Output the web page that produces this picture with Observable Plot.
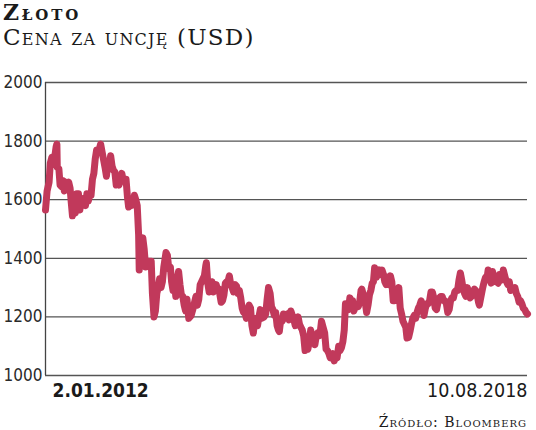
<!DOCTYPE html>
<html>
<head>
<meta charset="utf-8">
<script src="https://cdn.jsdelivr.net/npm/d3@7"></script>
<script src="https://cdn.jsdelivr.net/npm/@observablehq/plot@0.6"></script>
<style>
  body { margin: 0; background: #fff; }
  #wrap { position: relative; width: 536px; height: 430px; overflow: hidden; }
  .title { position: absolute; left: 3px; top: 1px; font: bold 22px/22px "DejaVu Serif", serif; font-variant: small-caps; letter-spacing: 2.8px; color: #1a1a1a; white-space: nowrap; }
  .sub { position: absolute; left: 3px; top: 26px; font: 23px/23px "DejaVu Serif", serif; font-variant: small-caps; letter-spacing: 1.2px; color: #1a1a1a; white-space: nowrap; }
  .src { position: absolute; right: 9px; top: 415px; font: 14px/14px "DejaVu Serif", serif; font-variant: small-caps; letter-spacing: 1px; color: #1a1a1a; white-space: nowrap; }
  #chart { position: absolute; left: 0; top: 60px; }
</style>
</head>
<body>
<div id="wrap">
  <div class="title">Złoto</div>
  <div class="sub">Cena za uncję (USD)</div>
  <div id="chart"></div>
  <div class="src">Źródło: Bloomberg</div>
</div>
<script>
const yTicks = [1000, 1200, 1400, 1600, 1800, 2000];
const endLabels = ["2.01.2012", "10.08.2018"];

const dates = [
"2012-01-02","2012-01-10","2012-01-20","2012-01-26","2012-02-03","2012-02-10","2012-02-16","2012-02-24","2012-02-28","2012-03-01","2012-03-09","2012-03-15","2012-03-22","2012-03-30","2012-04-05","2012-04-13","2012-04-20","2012-04-27","2012-05-04","2012-05-10","2012-05-16","2012-05-22","2012-05-30","2012-06-06","2012-06-15","2012-06-22","2012-06-29","2012-07-06","2012-07-13","2012-07-20","2012-07-27","2012-08-03","2012-08-10","2012-08-17","2012-08-24","2012-08-31","2012-09-07","2012-09-14","2012-09-21","2012-09-28","2012-10-04","2012-10-12","2012-10-19","2012-10-26","2012-11-02","2012-11-09","2012-11-16","2012-11-23","2012-11-30","2012-12-07","2012-12-14","2012-12-21","2012-12-28",
"2013-01-04","2013-01-11","2013-01-18","2013-01-25","2013-02-01","2013-02-08","2013-02-15","2013-02-21","2013-02-28","2013-03-08","2013-03-15","2013-03-22","2013-03-29","2013-04-05","2013-04-12","2013-04-15","2013-04-19","2013-04-26","2013-05-03","2013-05-10","2013-05-17","2013-05-24","2013-05-31","2013-06-07","2013-06-14","2013-06-20","2013-06-28","2013-07-05","2013-07-12","2013-07-19","2013-07-26","2013-08-02","2013-08-09","2013-08-16","2013-08-27","2013-09-03","2013-09-10","2013-09-18","2013-09-24","2013-10-01","2013-10-08","2013-10-15","2013-10-22","2013-10-29","2013-11-05","2013-11-12","2013-11-19","2013-11-26","2013-12-03","2013-12-10","2013-12-19","2013-12-31",
"2014-01-08","2014-01-15","2014-01-24","2014-01-31","2014-02-07","2014-02-14","2014-02-21","2014-02-28","2014-03-07","2014-03-14","2014-03-17","2014-03-24","2014-03-31","2014-04-07","2014-04-14","2014-04-21","2014-04-28","2014-05-05","2014-05-12","2014-05-19","2014-05-30","2014-06-06","2014-06-13","2014-06-20","2014-06-27","2014-07-03","2014-07-10","2014-07-17","2014-07-24","2014-07-31","2014-08-08","2014-08-15","2014-08-22","2014-08-29","2014-09-05","2014-09-12","2014-09-19","2014-09-26","2014-10-03","2014-10-10","2014-10-17","2014-10-24","2014-10-31","2014-11-07","2014-11-14","2014-11-21","2014-11-28","2014-12-05","2014-12-12","2014-12-19","2014-12-31",
"2015-01-08","2015-01-15","2015-01-22","2015-01-30","2015-02-06","2015-02-13","2015-02-20","2015-02-27","2015-03-06","2015-03-13","2015-03-17","2015-03-24","2015-03-31","2015-04-07","2015-04-14","2015-04-21","2015-04-28","2015-05-05","2015-05-14","2015-05-21","2015-05-29","2015-06-05","2015-06-12","2015-06-19","2015-06-26","2015-07-03","2015-07-10","2015-07-17","2015-07-24","2015-07-31","2015-08-07","2015-08-14","2015-08-21","2015-08-28","2015-09-04","2015-09-11","2015-09-18","2015-09-25","2015-10-02","2015-10-09","2015-10-14","2015-10-22","2015-10-30","2015-11-06","2015-11-13","2015-11-20","2015-11-27","2015-12-04","2015-12-10","2015-12-17","2015-12-24","2015-12-31",
"2016-01-08","2016-01-15","2016-01-22","2016-01-29","2016-02-05","2016-02-11","2016-02-19","2016-02-26","2016-03-04","2016-03-11","2016-03-18","2016-03-24","2016-03-31","2016-04-08","2016-04-15","2016-04-22","2016-04-29","2016-05-03","2016-05-13","2016-05-20","2016-05-27","2016-06-03","2016-06-10","2016-06-17","2016-06-24","2016-06-30","2016-07-06","2016-07-15","2016-07-22","2016-07-29","2016-08-05","2016-08-12","2016-08-19","2016-08-26","2016-09-02","2016-09-09","2016-09-16","2016-09-23","2016-09-30","2016-10-07","2016-10-14","2016-10-21","2016-10-28","2016-11-04","2016-11-11","2016-11-18","2016-11-25","2016-12-02","2016-12-09","2016-12-15","2016-12-23","2016-12-30",
"2017-01-06","2017-01-13","2017-01-20","2017-01-27","2017-02-03","2017-02-10","2017-02-17","2017-02-24","2017-03-03","2017-03-10","2017-03-17","2017-03-24","2017-03-31","2017-04-07","2017-04-14","2017-04-21","2017-04-28","2017-05-05","2017-05-12","2017-05-19","2017-05-26","2017-06-02","2017-06-09","2017-06-16","2017-06-23","2017-06-30","2017-07-07","2017-07-14","2017-07-21","2017-07-28","2017-08-04","2017-08-11","2017-08-18","2017-08-25","2017-09-01","2017-09-08","2017-09-15","2017-09-22","2017-09-29","2017-10-06","2017-10-13","2017-10-20","2017-10-27","2017-11-03","2017-11-10","2017-11-17","2017-11-24","2017-12-01","2017-12-08","2017-12-12","2017-12-19","2017-12-29",
"2018-01-05","2018-01-12","2018-01-19","2018-01-25","2018-02-02","2018-02-09","2018-02-16","2018-02-23","2018-03-02","2018-03-09","2018-03-16","2018-03-23","2018-03-30","2018-04-06","2018-04-11","2018-04-20","2018-04-27","2018-05-04","2018-05-11","2018-05-18","2018-05-25","2018-06-01","2018-06-08","2018-06-15","2018-06-22","2018-06-29","2018-07-06","2018-07-13","2018-07-20","2018-07-27","2018-08-03","2018-08-10"
];

const prices = [
1565,1630,1660,1725,1745,1720,1740,1780,1790,1710,1705,1650,1645,1665,1630,1660,1640,1660,1640,1590,1545,1570,1555,1620,1620,1565,1605,1580,1590,1580,1620,1595,1615,1615,1670,1690,1740,1770,1770,1775,1790,1760,1735,1710,1680,1730,1715,1750,1715,1700,1695,1650,1660,
1650,1665,1690,1665,1670,1670,1610,1575,1580,1580,1590,1615,1600,1580,1480,1360,1400,1460,1470,1430,1370,1390,1390,1390,1390,1280,1200,1220,1280,1300,1330,1300,1320,1370,1420,1410,1365,1370,1320,1290,1320,1270,1330,1355,1310,1275,1270,1240,1220,1260,1195,1205,
1225,1245,1270,1240,1260,1310,1320,1330,1340,1375,1385,1315,1285,1300,1320,1285,1300,1310,1295,1295,1250,1255,1275,1315,1320,1320,1340,1310,1300,1285,1310,1305,1280,1290,1265,1230,1215,1215,1195,1225,1240,1230,1170,1145,1190,1195,1170,1200,1225,1195,1200,
1210,1260,1300,1280,1235,1225,1205,1215,1170,1155,1150,1190,1185,1210,1195,1200,1210,1190,1220,1205,1190,1170,1180,1200,1175,1165,1155,1135,1085,1095,1090,1115,1155,1135,1120,1105,1135,1145,1135,1155,1185,1165,1145,1090,1085,1075,1060,1060,1075,1050,1070,1060,
1100,1085,1095,1115,1155,1245,1230,1225,1265,1255,1255,1220,1235,1235,1235,1250,1290,1295,1270,1250,1215,1240,1275,1290,1315,1320,1368,1335,1350,1360,1345,1360,1345,1320,1310,1335,1310,1340,1320,1255,1255,1265,1275,1300,1230,1210,1185,1175,1165,1128,1130,1150,
1175,1195,1205,1195,1215,1230,1240,1255,1235,1205,1230,1245,1245,1255,1285,1285,1265,1230,1225,1250,1265,1270,1270,1255,1255,1245,1215,1225,1255,1265,1265,1285,1290,1290,1325,1350,1325,1295,1280,1270,1300,1280,1265,1270,1280,1295,1290,1275,1250,1240,1265,1300,
1320,1335,1330,1360,1335,1315,1355,1330,1320,1320,1315,1345,1325,1330,1360,1335,1320,1310,1320,1290,1300,1295,1300,1280,1270,1250,1255,1245,1230,1225,1215,1210
];

const data = dates.map((d, i) => ({date: new Date(d), price: prices[i]}));
const first = data[0].date, last = data[data.length - 1].date;
const narrow = "'DejaVu Sans Condensed', 'DejaVu Sans', sans-serif";

const chart = Plot.plot({
  width: 536,
  height: 345,
  marginTop: 22,
  marginBottom: 30,
  marginLeft: 45,
  marginRight: 9,
  style: {fontFamily: narrow, color: "#222", background: "#fff"},
  x: {type: "utc", domain: [first, last], axis: null},
  y: {domain: [1000, 2000], label: null},
  marks: [
    Plot.gridY(yTicks, {stroke: "#555", strokeOpacity: 1, strokeWidth: 1.3}),
    Plot.ruleX([first], {stroke: "#444", strokeWidth: 1.3}),
    Plot.axisY(yTicks, {tickSize: 0, tickPadding: 3, fontSize: 17, fill: "#2a2a2a", fontFamily: narrow, tickFormat: d => String(d), label: null}),
    Plot.line(data, {x: "date", y: "price", stroke: "#c1395b", strokeWidth: 7, strokeLinejoin: "round", strokeLinecap: "round"}),
    Plot.text([first], {x: d => d, frameAnchor: "bottom", textAnchor: "start", dx: 7, dy: 21, text: () => endLabels[0], fontSize: 19, fontWeight: "bold", fill: "#1a1a1a", fontFamily: narrow}),
    Plot.text([last], {x: d => d, frameAnchor: "bottom", textAnchor: "end", dx: 0, dy: 21, text: () => endLabels[1], fontSize: 19.5, fontWeight: 500, fill: "#1a1a1a", fontFamily: narrow})
  ]
});
document.getElementById("chart").append(chart);
</script>
</body>
</html>
